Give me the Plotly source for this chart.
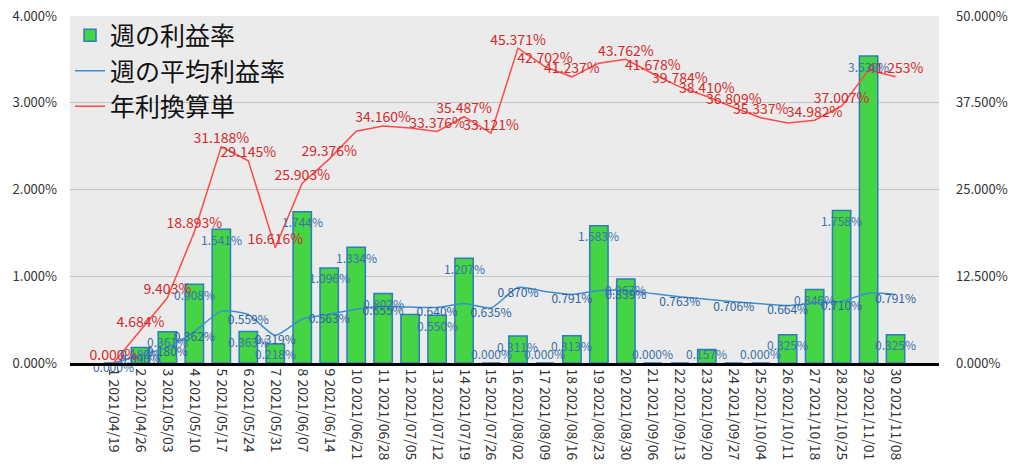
import plotly.graph_objects as go

dates = ["2021/04/19", "2021/04/26", "2021/05/03", "2021/05/10", "2021/05/17", "2021/05/24",
         "2021/05/31", "2021/06/07", "2021/06/14", "2021/06/21", "2021/06/28", "2021/07/05",
         "2021/07/12", "2021/07/19", "2021/07/26", "2021/08/02", "2021/08/09", "2021/08/16",
         "2021/08/23", "2021/08/30", "2021/09/06", "2021/09/13", "2021/09/20", "2021/09/27",
         "2021/10/04", "2021/10/11", "2021/10/18", "2021/10/25", "2021/11/01", "2021/11/08"]
categories = [f"{i + 1} {d}" for i, d in enumerate(dates)]

weekly = [0.000, 0.180, 0.361, 0.908, 1.541, 0.363, 0.218, 1.744, 1.096, 1.334,
          0.802, 0.560, 0.550, 1.207, 0.000, 0.311, 0.000, 0.313, 1.583, 0.967,
          0.000, 0.000, 0.157, 0.000, 0.000, 0.325, 0.846, 1.758, 3.538, 0.325]
average = [0.000, 0.090, 0.180, 0.362, 0.598, 0.559, 0.319, 0.507, 0.563, 0.620,
           0.655, 0.645, 0.640, 0.685, 0.635, 0.870, 0.825, 0.791, 0.835, 0.839,
           0.800, 0.763, 0.735, 0.706, 0.683, 0.664, 0.690, 0.710, 0.805, 0.791]
annual = [0.000, 4.684, 9.403, 18.893, 31.188, 29.145, 16.616, 25.903, 29.376, 33.400,
          34.160, 33.850, 33.376, 35.487, 33.121, 45.371, 42.702, 41.237, 43.200, 43.762,
          41.678, 39.784, 38.410, 36.809, 35.337, 34.600, 34.982, 37.007, 42.200, 41.253]

# labels hidden in the reference (1-based category numbers)
hide_weekly = {1, 12, 22, 24}
hide_average = {5, 8, 10, 12, 14, 17, 19, 21, 23, 25, 27, 29}
hide_annual = {10, 12, 19, 26, 29}

FONT = "Noto Sans CJK JP, Noto Sans, sans-serif"

fig = go.Figure()
fig.add_trace(go.Bar(
    x=categories, y=weekly, name="週の利益率",
    marker=dict(color="#44d444", line=dict(color="#2a7dc0", width=1.5)),
    width=0.68,
))
fig.add_trace(go.Scatter(
    x=categories, y=average, name="週の平均利益率", mode="lines+text",
    line=dict(color="#3a8fd4", width=1.5, shape="spline", smoothing=0.6),
    text=["" if (i + 1) in hide_average else f"{v:.3f}%" for i, v in enumerate(average)],
    textposition="bottom center",
    textfont=dict(color="#2f62a0", size=12, family=FONT),
    cliponaxis=False,
))
fig.add_trace(go.Scatter(
    x=categories, y=annual, name="年利換算単", mode="lines+text", yaxis="y2",
    line=dict(color="#ff4a4a", width=1.5),
    text=["" if (i + 1) in hide_annual else f"{v:.3f}%" for i, v in enumerate(annual)],
    textposition="top center",
    textfont=dict(color="#d42a2a", size=14, family=FONT),
    cliponaxis=False,
))

annotations = []
for i, v in enumerate(weekly):
    if (i + 1) in hide_weekly:
        continue
    big = v >= 0.23
    annotations.append(dict(
        x=categories[i], y=v if big else 0, xref="x", yref="y",
        text=f"{v:.3f}%", showarrow=False,
        yshift=-10 if big else 10,
        font=dict(color="#3a72ac", size=12, family=FONT),
    ))

fig.update_layout(
    width=1024, height=476,
    margin=dict(l=70, r=85, t=16, b=113),
    paper_bgcolor="white", plot_bgcolor="#ebebeb",
    font=dict(family=FONT, color="#333333", size=13),
    showlegend=True,
    legend=dict(x=0, y=1.01, xanchor="left", yanchor="top",
                bgcolor="rgba(0,0,0,0)", font=dict(size=25, color="#111111"),
                tracegroupgap=0, itemwidth=30),
    bargap=0.32,
    annotations=annotations,
    xaxis=dict(tickangle=90, showline=True, linecolor="black", linewidth=2.5,
               showgrid=False, ticks="", automargin=False,
               tickfont=dict(size=14, color="#333333")),
    yaxis=dict(range=[0, 4], dtick=1, tickformat=".3f", ticksuffix="%",
               gridcolor="#c4c4c4", gridwidth=1, zeroline=False, automargin=False,
               ticks="", ticklabelstandoff=12,
               tickfont=dict(size=13, color="#333333")),
    yaxis2=dict(range=[0, 50], dtick=12.5, tickformat=".3f", ticksuffix="%",
                overlaying="y", side="right", showgrid=False, zeroline=False,
                automargin=False, ticks="", ticklabelstandoff=16,
                tickfont=dict(size=13, color="#333333")),
)

fig.write_html("out.html", config={"displayModeBar": False},
               post_script="document.body.style.margin='0px';")
